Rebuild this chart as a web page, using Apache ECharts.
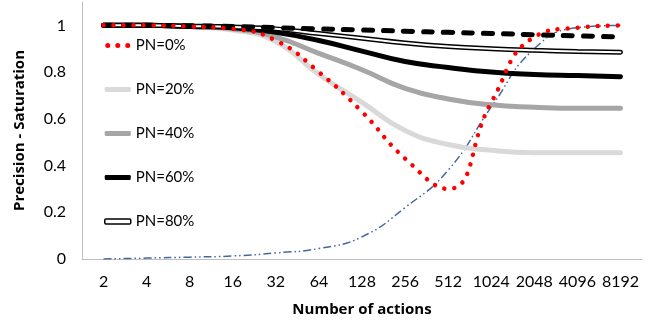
<!DOCTYPE html>
<html>
<head>
<meta charset="utf-8">
<script src="https://cdn.jsdelivr.net/npm/echarts@6/dist/echarts.min.js"></script>
<style>html,body{margin:0;padding:0;background:#fff}#c{width:656px;height:323px}</style>
</head>
<body>
<div id="c"></div>
<script>
const categories = ['2','4','8','16','32','64','128','256','512','1024','2048','4096','8192'];
const pn0  = [1, 1, 0.995, 0.985, 0.935, 0.80, 0.63, 0.43, 0.30, 0.67, 0.95, 0.99, 1.0];
const pn20 = [1, 1, 0.995, 0.98, 0.93, 0.79, 0.67, 0.55, 0.49, 0.465, 0.455, 0.455, 0.455];
const pn40 = [1, 1, 0.995, 0.985, 0.95, 0.88, 0.81, 0.73, 0.685, 0.66, 0.65, 0.645, 0.645];
const pn60 = [1, 1, 0.995, 0.99, 0.97, 0.935, 0.89, 0.845, 0.82, 0.80, 0.79, 0.785, 0.78];
const pn80 = [1, 1, 0.997, 0.993, 0.985, 0.965, 0.945, 0.925, 0.91, 0.90, 0.893, 0.888, 0.885];
const dashedRef = [1, 1, 0.998, 0.995, 0.99, 0.985, 0.98, 0.975, 0.97, 0.965, 0.96, 0.955, 0.95];
const saturation = [0, 0.004, 0.008, 0.013, 0.026, 0.045, 0.095, 0.22, 0.38, 0.65, 0.90, 0.99, 1.0];
const legendNames = ['PN=0%','PN=20%','PN=40%','PN=60%','PN=80%'];

const font = 'Lato';
const titleFont = 'Open Sans';
const chart = echarts.init(document.getElementById('c'), null, {renderer:'canvas'});
const base = {type:'line', smooth:0.5, symbol:'none', showSymbol:false, silent:true};
const dotsIcon = 'path://M0,2.5a2.5,2.5 0 1,0 5,0a2.5,2.5 0 1,0 -5,0M10,2.5a2.5,2.5 0 1,0 5,0a2.5,2.5 0 1,0 -5,0M20,2.5a2.5,2.5 0 1,0 5,0a2.5,2.5 0 1,0 -5,0';
chart.setOption({
  animation:false,
  grid:{left:82, right:14, top:2, bottom:64},
  legend:{
    orient:'vertical', left:99, top:33, itemWidth:26, itemHeight:5, itemGap:29,
    textStyle:{fontFamily:font, fontSize:15, color:'#000'},
    data:[
      {name:legendNames[0], icon:dotsIcon, itemStyle:{color:'#FF0000', borderWidth:0}},
      {name:legendNames[1], icon:'roundRect', itemStyle:{color:'#D9D9D9', borderWidth:0}},
      {name:legendNames[2], icon:'roundRect', itemStyle:{color:'#A6A6A6', borderWidth:0}},
      {name:legendNames[3], icon:'roundRect', itemStyle:{color:'#000', borderWidth:0}},
      {name:legendNames[4], icon:'roundRect', itemStyle:{color:'#fff', borderColor:'#000', borderWidth:1.5}}
    ]
  },
  xAxis:{
    type:'category', data:categories, boundaryGap:true,
    axisLine:{lineStyle:{color:'#BFBFBF', width:1}}, axisTick:{show:false},
    axisLabel:{color:'#000', fontSize:16, fontFamily:font, margin:15, interval:0, hideOverlap:false},
    name:'Number of actions', nameLocation:'middle', nameGap:43,
    nameTextStyle:{color:'#000', fontWeight:'bold', fontSize:15, fontFamily:titleFont}
  },
  yAxis:{
    type:'value', min:0, max:1.1, interval:0.2,
    splitLine:{show:false}, axisTick:{show:false},
    axisLine:{show:true, lineStyle:{color:'#BFBFBF', width:1}},
    axisLabel:{color:'#000', fontSize:16, fontFamily:font, margin:16, showMaxLabel:false,
      formatter:v => v > 1.05 ? '' : String(+v.toFixed(1))},
    name:'Precision - Saturation', nameLocation:'middle', nameGap:55, nameRotate:90,
    nameTextStyle:{color:'#000', fontWeight:'bold', fontSize:15, fontFamily:titleFont}
  },
  series:[
    Object.assign({}, base, {name:'saturation', data:saturation, z:3,
      itemStyle:{color:'#44689E'},
      lineStyle:{color:'#44689E', width:1.5, type:[8,3,1.5,3,1.5,3]}}),
    Object.assign({}, base, {name:'PN=20%', data:pn20, z:4,
      itemStyle:{color:'#D9D9D9'},
      lineStyle:{color:'#D9D9D9', width:5, cap:'round'}}),
    Object.assign({}, base, {name:'PN=40%', data:pn40, z:4,
      itemStyle:{color:'#A6A6A6'},
      lineStyle:{color:'#A6A6A6', width:5, cap:'round'}}),
    Object.assign({}, base, {name:'PN=60%', data:pn60, z:4,
      itemStyle:{color:'#000'},
      lineStyle:{color:'#000', width:5, cap:'round'}}),
    Object.assign({}, base, {name:'PN=80%', data:pn80, z:4,
      itemStyle:{color:'#000'},
      lineStyle:{color:'#000', width:5, cap:'round'}}),
    Object.assign({}, base, {name:'PN=80% inner', data:pn80, z:5,
      lineStyle:{color:'#fff', width:2, cap:'round'}}),
    Object.assign({}, base, {name:'reference', data:dashedRef, z:5,
      lineStyle:{color:'#000', width:5, type:[9,11], cap:'round'}}),
    Object.assign({}, base, {name:'PN=0%', data:pn0, z:6,
      itemStyle:{color:'#FF0000'},
      lineStyle:{color:'#FF0000', width:4.5, type:[0.01,10], cap:'round'}})
  ]
});
</script>
</body>
</html>
